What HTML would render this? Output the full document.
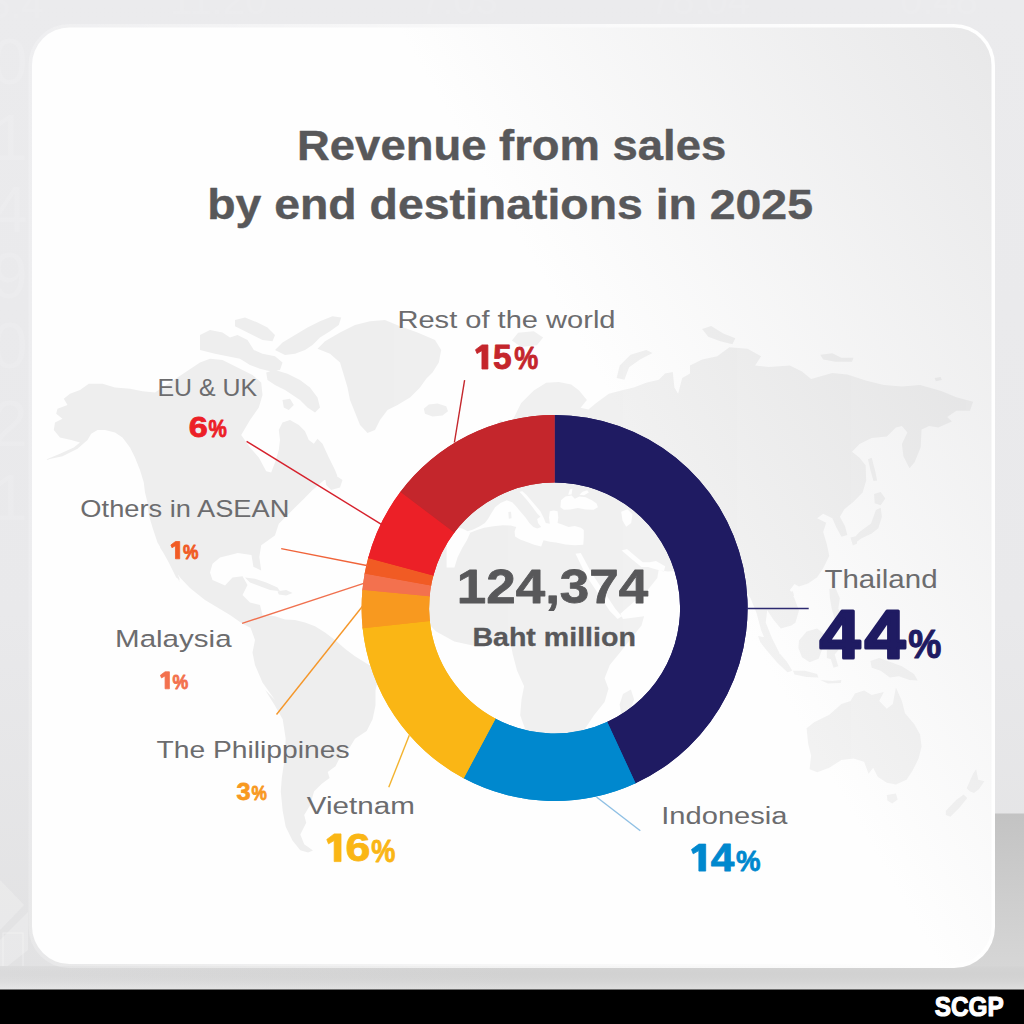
<!DOCTYPE html>
<html><head><meta charset="utf-8"><title>Revenue from sales by end destinations in 2025</title>
<style>
html,body{margin:0;padding:0;width:1024px;height:1024px;overflow:hidden;background:#e9e9eb;}
svg{display:block;font-family:"Liberation Sans",sans-serif;}
text{white-space:pre;}
</style></head><body>
<svg width="1024" height="1024" viewBox="0 0 1024 1024">
<defs>
<linearGradient id="bg" x1="0" y1="0" x2="0" y2="1">
<stop offset="0" stop-color="#ebebed"/><stop offset="0.6" stop-color="#e9e9eb"/><stop offset="1" stop-color="#e1e1e2"/>
</linearGradient>
<linearGradient id="card" gradientUnits="userSpaceOnUse" x1="636" y1="441" x2="1079" y2="185">
<stop offset="0" stop-color="#fefefe"/><stop offset="1" stop-color="#e8e8e9"/>
</linearGradient>
<linearGradient id="mapg" gradientUnits="userSpaceOnUse" x1="300" y1="0" x2="1000" y2="0">
<stop offset="0" stop-color="#000" stop-opacity="0.064"/><stop offset="1" stop-color="#000" stop-opacity="0.04"/>
</linearGradient>
<linearGradient id="bord" gradientUnits="userSpaceOnUse" x1="28" y1="0" x2="995" y2="0">
<stop offset="0" stop-color="#fff" stop-opacity="0.2"/><stop offset="0.5" stop-color="#fff" stop-opacity="0.72"/><stop offset="1" stop-color="#fff" stop-opacity="1"/>
</linearGradient>
<linearGradient id="bshade" x1="0" y1="0" x2="0" y2="1">
<stop offset="0" stop-color="#000" stop-opacity="0.03"/><stop offset="1" stop-color="#fff" stop-opacity="0.15"/>
</linearGradient>
<linearGradient id="bstrip" x1="0" y1="0" x2="1" y2="0">
<stop offset="0" stop-color="#e4e4e5"/><stop offset="0.5" stop-color="#dbdbdb"/><stop offset="1" stop-color="#dbdbdb"/>
</linearGradient>
<linearGradient id="rshade" x1="0" y1="0" x2="0" y2="1">
<stop offset="0" stop-color="#c3c3c3"/><stop offset="1" stop-color="#d6d6d6"/>
</linearGradient>
<mask id="nothole" maskUnits="userSpaceOnUse" x="0" y="0" width="1024" height="1024"><rect width="1024" height="1024" fill="#fff"/><circle cx="554.6" cy="608.0" r="127.0" fill="#000"/></mask>
<mask id="seas" maskUnits="userSpaceOnUse" x="0" y="0" width="1024" height="1024"><rect width="1024" height="1024" fill="#fff"/><path fill="#000" d="M467.7 531.2L473.2 529.4L479.4 526.6L484.9 523.0L488.0 519.1L491.2 513.6L495.1 507.3L500.5 503.1L506.8 500.3L512.2 502.2L516.2 506.6L520.8 512.0L525.5 517.5L529.4 523.0L533.3 526.9L537.2 528.4L541.2 526.9L538.0 523.0L537.2 519.1L540.4 516.7L537.2 513.6L532.6 507.3L527.1 500.3L521.6 494.1L519.3 491.7L522.4 491.2L526.3 494.8L531.0 500.3L535.7 505.8L540.4 511.2L543.5 517.5L545.8 523.0L549.8 523.8L549.0 517.5L549.8 511.2L553.7 510.5L557.6 511.2L558.3 517.5L557.6 523.0L562.2 524.5L568.5 526.9L574.8 526.1L581.0 527.7L583.8 530.0L583.8 537.8L583.3 544.8L574.8 545.3L565.4 544.4L556.0 542.5L549.8 541.7L543.5 540.2L541.2 546.4L534.1 544.8L526.3 541.7L520.1 539.4L515.1 536.6L514.6 531.6L516.2 526.9L510.7 525.6L502.9 525.3L493.5 526.2L484.1 527.7L476.3 530.3L470.1 532.8ZM560.4 507.3L561.0 500.3L565.4 496.4L571.6 495.6L574.8 498.8L579.4 496.4L585.7 497.2L591.9 500.3L596.6 503.4L597.9 507.3L593.5 509.7L585.7 509.4L577.9 508.1L570.1 509.4L563.8 509.7ZM579.4 494.8L582.6 491.7L587.2 490.2L588.8 492.5L584.1 495.3ZM568.2 494.8L569.8 489.4L572.4 488.6L571.6 494.4ZM446.6 526.1L462.2 528.4L467.7 531.2L470.1 533.1L466.9 540.2L462.2 548.0L457.6 557.3L454.4 567.5L446.6 567.5ZM621.2 511.8L627.5 509.2L632.5 514.2L631.2 523.0L626.2 526.8L622.5 520.5ZM575.5 553.8L580.8 553.0L591.4 572.8L604.6 592.6L615.1 608.4L621.7 616.3L617.7 619.0L609.8 611.0L599.3 595.2L586.1 575.5ZM621.7 550.4L627.0 549.1L634.9 555.7L642.8 562.3L649.4 562.3L656.0 561.0L665.2 566.2L663.9 571.5L654.6 568.9L648.1 567.0L641.5 567.0L632.2 559.6ZM686.3 570.2L667.8 571.5L658.6 570.2L657.3 578.1L646.7 591.3L630.9 604.5L620.4 613.7L623.0 619.0L644.1 616.3L641.5 625.5L630.9 638.7L620.4 651.9L609.8 665.1L604.6 678.3L608.5 688.8L604.6 702.0L594.0 715.2L583.5 731.0L572.9 749.5L696.8 749.5L696.8 570.2ZM409.5 612.4L429.2 624.2L435.8 631.3L454.3 641.4L472.7 645.6L488.5 643.0L504.4 641.4L511.0 645.3L512.8 654.6L517.0 670.4L524.1 686.2L521.5 699.4L520.2 715.2L526.8 733.6L533.4 749.5L409.5 749.5Z"/><path fill="#fff" d="M508.3 512.0L511.0 511.7L511.6 518.3L508.8 518.8ZM623.0 694.1L630.9 689.4L634.1 699.4L628.8 715.7L621.7 716.8L619.6 704.6Z"/></mask>
<clipPath id="cardclip"><rect x="32" y="27.5" width="959.5" height="936.5" rx="37.5" ry="37.5"/></clipPath>
</defs>
<rect x="0" y="0" width="1024" height="1024" fill="url(#bg)"/>
<g font-size="64" font-weight="400" fill="#ffffff" fill-opacity="0.11">
<text x="-8" y="84">0</text><text x="-8" y="160">1</text><text x="-8" y="232">4</text><text x="-8" y="298">9</text><text x="-8" y="368">0</text><text x="-8" y="446">2</text><text x="-8" y="520">1</text>
<text x="-12" y="18" font-size="40">5.4</text><text x="170" y="14" font-size="40">11.20</text><text x="420" y="14" font-size="40">7.03</text><text x="650" y="14" font-size="40">78.04</text><text x="900" y="14" font-size="40">0.48</text>
</g>
<path d="M0 880L24 905L0 930ZM0 940L28 912L28 950L0 972Z" fill="#ffffff" fill-opacity="0.22"/>
<rect x="3" y="933" width="20" height="48" fill="none" stroke="#ffffff" stroke-opacity="0.3" stroke-width="1.2"/>
<rect x="940" y="813.5" width="84" height="153" fill="url(#rshade)"/>
<rect x="0" y="966" width="1024" height="24" fill="url(#bstrip)"/>
<rect x="0" y="966" width="1024" height="24" fill="url(#bshade)"/>
<rect x="28.5" y="24" width="966.5" height="944" rx="41" ry="41" fill="url(#bord)"/>
<rect x="32" y="27.5" width="959.5" height="936.5" rx="37.5" ry="37.5" fill="url(#card)"/>
<g clip-path="url(#cardclip)" fill="url(#mapg)">
<g mask="url(#nothole)"><path fill-rule="nonzero" d="M45.0 460.0L60.0 453.8L73.8 447.5L80.0 442.5L71.2 440.0L60.0 437.5L53.8 430.0L55.0 422.5L62.5 418.8L56.2 413.8L57.5 408.8L67.5 405.0L63.8 398.8L70.0 393.8L80.0 390.0L88.8 383.8L102.5 383.8L115.0 387.5L130.0 388.8L142.5 391.2L155.0 392.5L200.0 362.5L210.0 358.8L222.5 360.0L232.5 365.0L242.5 370.0L252.5 375.0L261.2 382.5L262.5 395.0L258.8 407.5L250.0 420.0L241.2 435.0L250.0 447.5L258.8 457.5L266.2 471.2L271.2 472.5L275.0 462.5L278.8 450.0L280.0 440.0L278.8 430.0L282.5 422.5L290.0 420.0L298.8 425.0L305.0 431.2L308.8 440.0L313.8 443.8L317.5 438.8L322.5 443.8L328.8 457.5L335.0 470.0L337.0 475.0L339.4 486.6L325.7 478.8L312.0 490.5L304.2 498.4L294.5 508.1L278.8 523.8L274.9 535.5L261.2 545.2L259.3 557.0L261.2 570.6L253.4 566.7L251.5 555.0L237.8 553.0L230.0 555.0L220.0 557.5L212.5 563.8L210.0 572.5L212.5 580.0L225.0 585.5L232.5 577.5L242.5 576.2L247.5 585.0L242.5 595.0L250.0 602.5L260.0 605.0L262.5 615.0L266.2 625.0L275.0 627.5L282.5 623.8L270.0 632.0L255.0 630.0L242.5 623.8L230.0 615.0L205.0 600.0L190.0 588.0L180.0 577.5L170.0 563.0L160.0 547.5L162.5 540.0L180.0 582.5L172.5 570.0L165.0 555.0L157.5 542.5L152.5 527.5L148.8 515.0L147.5 502.5L145.0 492.5L143.8 482.5L140.0 470.0L135.0 457.5L130.0 447.5L122.5 437.5L115.0 432.5L105.0 430.0L97.5 430.0L91.2 433.8L87.5 440.0L77.5 448.8L62.5 456.2ZM158.8 543.8L162.5 542.5L170.0 557.5L177.5 573.8L180.0 580.0L176.2 577.5L168.8 562.5L162.5 551.2ZM200.0 335.0L210.0 330.0L222.5 332.5L230.0 337.5L237.5 335.0L247.5 340.0L253.8 350.0L262.5 353.8L275.0 356.2L282.5 362.5L280.0 370.0L270.0 371.2L260.0 368.8L250.0 365.0L240.0 358.8L227.5 356.2L215.0 353.8L205.0 351.2L200.0 350.0ZM275.0 350.0L282.5 342.5L295.0 335.0L307.5 327.5L320.0 321.2L332.5 316.2L341.2 317.5L338.8 325.0L330.0 331.2L320.0 337.5L312.5 345.0L305.0 350.0L295.0 353.8L285.0 355.0ZM235.0 320.0L245.0 317.5L257.5 322.5L267.5 327.5L275.0 335.0L272.5 341.2L262.5 340.0L252.5 335.0L242.5 330.0L235.0 326.2ZM266.2 372.5L275.0 370.0L287.5 373.8L300.0 380.0L310.0 387.5L317.5 397.5L320.0 407.5L315.0 412.5L307.5 407.5L300.0 400.0L292.5 395.0L285.0 390.0L275.0 385.0L267.5 380.0ZM282.5 400.0L290.0 398.8L293.8 405.0L288.8 410.0L283.8 407.5ZM325.0 476.2L335.0 475.0L342.5 480.0L340.0 487.5L331.2 490.0L326.2 485.0ZM317.5 348.8L325.0 341.2L340.0 332.5L355.0 325.0L370.0 321.2L385.0 320.0L400.0 326.2L417.5 332.5L435.0 340.0L441.2 350.0L438.8 362.5L432.5 372.5L426.2 378.8L420.0 387.5L410.0 397.5L397.5 405.0L387.5 410.0L380.0 420.0L375.0 430.0L367.5 433.0L360.0 425.0L355.0 412.5L350.0 400.0L347.5 387.5L343.8 375.0L340.0 362.5L330.0 353.8ZM423.8 408.8L428.8 404.5L437.5 403.5L446.2 406.2L448.0 411.2L442.5 415.5L432.5 416.5L425.0 413.8ZM245.0 577.5L255.0 578.8L266.2 582.5L277.5 587.5L280.0 591.2L270.0 590.0L260.0 586.2L250.0 582.5ZM277.5 591.2L286.2 590.0L292.5 593.0L286.2 595.5L278.8 594.5ZM247.5 621.2L256.2 616.2L265.0 615.0L275.0 616.2L285.0 619.5L295.0 620.0L305.0 622.5L315.0 626.2L325.0 632.5L335.0 640.0L345.0 648.8L355.0 656.2L365.0 662.5L377.5 670.0L395.0 680.0L405.0 690.0L407.5 702.5L386.2 660.7L378.4 678.3L375.5 690.0L375.5 705.6L372.6 719.3L366.7 731.0L355.0 738.8L349.1 748.6L339.4 758.4L335.5 766.2L327.7 772.0L329.6 777.9L321.8 783.8L314.0 791.6L310.1 805.2L304.2 815.0L306.2 822.8L300.3 834.5L304.2 844.3L313.0 850.5L308.1 852.5L300.3 850.2L292.5 840.4L285.7 826.7L282.7 811.1L280.8 791.6L281.8 777.9L284.7 758.4L285.7 738.8L282.7 719.3L274.9 705.6L265.2 690.0L275.0 700.0L262.5 682.5L255.0 665.0L252.5 652.5L255.0 640.0L250.0 626.2ZM425.3 580.7L435.8 570.2L449.0 557.0L459.5 543.8L464.8 534.6L472.7 529.3L485.9 526.7L504.4 525.4L522.8 522.7L528.1 529.3L525.5 538.5L536.0 542.5L549.2 549.1L562.4 546.5L575.5 546.5L588.7 549.1L594.0 557.0L588.7 559.6L596.6 575.5L604.6 588.6L615.1 604.5L620.4 616.3L630.9 617.6L644.1 615.0L641.5 625.5L630.9 638.7L620.4 651.9L609.8 665.1L604.6 678.3L609.8 688.8L604.6 702.0L594.0 715.2L583.5 731.0L570.3 744.2L557.1 749.5L543.9 746.8L533.4 733.6L525.5 715.2L522.8 699.4L525.5 686.2L520.2 670.4L512.3 654.6L509.6 644.0L499.1 641.4L483.3 644.0L467.5 645.3L454.3 642.7L441.1 633.5L430.5 620.3L422.6 607.1L420.0 593.9ZM623.0 694.1L630.9 688.8L633.6 699.4L628.3 715.2L621.7 716.5L619.8 704.6ZM588.7 549.1L601.9 545.1L615.1 549.1L623.0 554.4L628.3 562.3L638.8 566.2L649.4 570.2L657.3 578.1L646.7 591.3L633.6 601.8L620.4 609.7L612.5 596.5L604.6 580.7L596.6 564.9L591.4 555.7ZM459.5 524.0L463.5 513.5L472.7 509.5L485.9 512.2L496.5 516.1L507.0 509.5L520.2 504.3L530.7 501.6L537.3 509.5L543.9 518.8L549.2 526.7L543.9 525.4L538.6 517.5L530.7 509.5L525.5 512.2L528.1 520.1L521.5 518.8L512.3 516.1L501.7 520.1L493.8 522.7L483.3 522.7L472.7 526.7L464.8 529.3ZM543.9 501.6L557.1 496.4L562.4 485.8L578.2 488.5L588.7 493.7L601.9 491.1L615.1 496.4L630.9 495.0L646.7 485.8L657.3 483.2L657.3 470.0L499.1 470.0L499.1 485.8L509.6 496.4L525.5 496.4L536.0 497.7ZM562.4 513.5L578.2 509.5L594.0 510.9L609.8 509.5L625.6 513.5L638.8 522.7L649.4 538.5L652.0 551.7L644.1 559.6L638.8 557.0L630.9 549.1L623.0 546.5L615.1 541.2L601.9 537.2L588.7 538.5L580.8 533.3L570.3 530.6L565.0 522.7ZM625.6 513.5L638.8 501.6L657.3 496.4L678.4 501.6L683.6 522.7L681.0 549.1L673.1 564.9L657.3 570.2L646.7 562.3L652.0 551.7L649.4 538.5L638.8 522.7ZM510.3 425.0L515.0 415.6L521.2 403.1L533.8 390.6L546.2 382.8L558.8 381.9L571.2 384.4L579.1 390.6L586.9 400.0L580.6 407.8L588.4 409.4L596.2 403.1L608.8 393.8L621.2 390.6L633.8 387.5L646.2 382.8L658.8 379.7L665.0 373.4L672.8 371.9L674.4 387.5L678.1 393.8L682.2 378.1L690.0 373.4L690.0 365.4L702.1 359.4L717.2 356.3L729.4 347.2L747.5 348.8L761.1 356.3L755.1 365.4L768.7 366.9L789.9 365.4L802.0 371.5L811.1 379.0L832.3 373.0L847.4 374.5L865.6 380.6L883.8 385.1L901.9 386.6L920.1 385.1L941.3 391.1L956.4 397.2L973.1 401.7L970.0 410.8L956.4 410.8L947.3 416.9L951.9 421.4L938.3 427.5L929.2 426.0L921.6 429.6L920.7 447.2L914.6 462.3L909.5 468.3L903.4 456.2L901.9 444.1L907.4 432.6L901.9 426.0L895.9 427.5L886.8 436.6L871.7 438.1L859.5 444.1L852.0 451.7L859.5 457.8L865.6 465.3L866.2 480.5L862.6 492.6L853.5 501.7L844.4 509.2L839.9 516.8L845.0 525.9L847.4 535.0L841.4 536.8L835.9 526.5L832.3 518.3L823.2 513.8L817.2 518.3L826.2 522.8L823.2 531.9L826.8 544.0L829.3 556.1L823.2 568.3L817.2 577.3L808.1 583.4L799.0 586.4L794.5 584.0L789.9 590.1L794.5 598.5L799.0 610.6L795.4 622.8L791.4 625.4L780.8 628.4L773.3 619.4L767.2 610.3L765.7 622.4L771.7 637.5L779.3 652.7L780.8 661.7L774.8 658.7L767.2 645.1L761.1 630.0L756.6 613.3L750.6 598.2L741.5 586.1L726.3 580.0L720.0 600.0L690.0 640.0L660.0 600.0L640.0 560.0L683.6 570.2L673.1 564.9L657.3 570.2L646.7 562.3L652.0 551.7L644.1 559.6L638.8 557.0L630.9 549.1L623.0 546.5L615.1 541.2L601.9 537.2L588.7 538.5L580.8 533.3L570.3 530.6L565.0 522.7L562.4 513.5L551.8 506.9L543.9 501.6L549.2 526.7L543.9 525.4L538.6 517.5L530.7 509.5L525.5 512.2L528.1 520.1L521.5 518.8L512.3 516.1L501.7 520.1L493.8 522.7L483.3 522.7L472.7 526.7L464.8 529.3L459.5 524.0L463.5 513.5L472.7 509.5L485.9 512.2L490.0 500.0L480.0 450.0L500.0 420.0ZM616.6 378.1L619.7 365.6L630.6 354.7L646.2 350.0L652.5 353.1L640.0 359.4L629.1 367.2L624.4 379.7ZM511.9 340.6L518.1 332.8L533.8 331.2L543.1 337.5L536.9 345.3L521.2 346.9ZM702.1 329.1L711.2 326.1L723.3 333.6L735.4 338.2L732.4 344.2L720.3 341.2L708.2 336.7ZM820.2 354.8L832.3 353.3L841.4 357.8L853.5 357.8L852.0 361.8L835.3 361.8L823.2 359.4ZM934.6 378.1L940.7 376.9L941.9 379.9L935.8 381.2ZM868.0 459.3L871.7 457.8L875.3 471.4L877.1 480.5L873.5 481.1L870.4 469.9ZM874.1 494.1L880.7 492.0L885.3 498.6L880.7 505.3L874.7 503.2ZM853.5 538.6L859.5 531.9L871.0 523.5L875.9 510.1L880.7 507.7L881.9 516.8L878.3 528.3L871.7 533.4L861.1 538.6L855.9 542.5ZM850.5 537.4L855.9 536.2L857.1 543.4L852.9 545.6ZM829.9 592.5L834.1 590.4L835.9 597.0L832.3 602.2L829.9 598.5ZM787.5 592.5L792.9 591.3L794.1 596.1L789.3 597.9ZM758.1 636.0L765.7 637.5L776.3 649.6L786.9 661.7L792.3 670.8L787.5 672.3L777.8 663.3L767.2 651.1L760.2 642.1ZM792.9 670.8L805.0 670.8L817.2 673.9L818.4 677.5L806.6 676.9L794.5 674.5ZM799.0 640.6L806.6 631.5L817.2 628.4L824.7 634.5L823.2 646.6L818.7 658.7L809.6 662.3L802.0 657.2L798.4 648.1ZM826.8 650.2L832.3 647.2L839.0 649.6L834.7 654.5L838.3 666.3L833.5 667.8L830.8 659.3L826.8 658.1ZM829.3 589.1L835.3 587.6L839.9 598.2L838.3 608.8L842.9 616.3L840.8 622.4L834.7 619.4L831.7 608.8L829.9 598.2ZM870.4 661.1L879.2 658.1L889.8 661.7L901.9 666.3L914.0 673.9L917.7 680.5L909.5 679.9L898.9 676.3L889.8 677.5L880.7 670.8L871.7 667.8ZM820.2 679.9L832.3 681.1L841.4 679.9L840.8 682.9L827.8 683.5ZM806.6 728.3L814.1 722.3L829.3 714.7L841.4 704.1L850.5 701.1L855.0 693.5L864.1 690.5L871.7 695.0L883.8 692.0L879.2 701.1L886.8 708.7L892.8 704.1L895.9 687.5L901.9 701.1L905.0 713.2L914.0 723.8L920.1 734.4L921.6 746.5L918.6 758.6L912.5 770.7L906.5 779.8L895.9 784.4L886.8 782.8L877.7 776.8L873.2 767.7L868.6 773.8L864.1 761.7L853.5 758.6L841.4 760.1L829.3 767.7L817.2 772.2L809.6 769.2L811.1 755.6L808.1 743.5ZM886.8 795.0L895.9 793.4L897.7 799.5L892.2 803.4L887.4 800.4ZM966.7 788.3L973.1 773.8L976.1 769.2L978.2 779.8L984.3 781.3L979.1 788.9L974.0 793.1L969.7 791.3ZM945.8 810.7L956.4 799.8L963.7 794.4L967.3 798.0L959.5 807.7L950.4 816.8L945.8 814.9Z"/></g><circle cx="554.6" cy="608.0" r="127.0" mask="url(#seas)"/>
</g>
<path d="M554.60 415.00A193.0 193.0 0 0 1 634.33 783.76L606.44 722.29A125.5 125.5 0 0 0 554.60 482.50Z" fill="#1f1b62"/>
<path d="M636.78 782.63A193.0 193.0 0 0 1 462.51 777.61L494.72 718.29A125.5 125.5 0 0 0 608.04 721.56Z" fill="#0088ce"/>
<path d="M464.89 778.88A193.0 193.0 0 0 1 362.52 626.83L429.70 620.25A125.5 125.5 0 0 0 496.26 719.12Z" fill="#fab615"/>
<path d="M362.80 629.51A193.0 193.0 0 0 1 362.59 588.50L429.74 595.32A125.5 125.5 0 0 0 429.88 621.99Z" fill="#f8991f"/>
<path d="M362.33 591.18A193.0 193.0 0 0 1 364.96 572.17L431.28 584.70A125.5 125.5 0 0 0 429.58 597.06Z" fill="#f3714e"/>
<path d="M364.47 574.82A193.0 193.0 0 0 1 368.53 556.75L433.61 574.67A125.5 125.5 0 0 0 430.97 586.42Z" fill="#f15b24"/>
<path d="M367.83 559.35A193.0 193.0 0 0 1 401.28 490.78L454.90 531.77A125.5 125.5 0 0 0 433.15 576.37Z" fill="#ec2027"/>
<path d="M399.66 492.93A193.0 193.0 0 0 1 554.60 415.00L554.60 482.50A125.5 125.5 0 0 0 453.85 533.17Z" fill="#c4262c"/>
<path d="M554.60 415.00A193.0 193.0 0 0 1 635.55 783.20L607.24 721.93A125.5 125.5 0 0 0 554.60 482.50Z" fill="#1f1b62"/>
<path d="M635.55 783.20A193.0 193.0 0 0 1 463.69 778.25L495.49 718.71A125.5 125.5 0 0 0 607.24 721.93Z" fill="#0088ce"/>
<path d="M463.69 778.25A193.0 193.0 0 0 1 362.66 628.17L429.79 621.12A125.5 125.5 0 0 0 495.49 718.71Z" fill="#fab615"/>
<path d="M362.66 628.17A193.0 193.0 0 0 1 362.46 589.84L429.66 596.19A125.5 125.5 0 0 0 429.79 621.12Z" fill="#f8991f"/>
<path d="M362.46 589.84A193.0 193.0 0 0 1 364.71 573.49L431.12 585.56A125.5 125.5 0 0 0 429.66 596.19Z" fill="#f3714e"/>
<path d="M364.71 573.49A193.0 193.0 0 0 1 368.18 558.05L433.38 575.52A125.5 125.5 0 0 0 431.12 585.56Z" fill="#f15b24"/>
<path d="M368.18 558.05A193.0 193.0 0 0 1 400.46 491.85L454.37 532.47A125.5 125.5 0 0 0 433.38 575.52Z" fill="#ec2027"/>
<path d="M400.46 491.85A193.0 193.0 0 0 1 554.60 415.00L554.60 482.50A125.5 125.5 0 0 0 454.37 532.47Z" fill="#c4262c"/>
<line x1="464.6" y1="380.1" x2="454.4" y2="442.5" stroke="#c4262c" stroke-width="1.4"/>
<line x1="246.6" y1="441.3" x2="381.8" y2="524.6" stroke="#d6212c" stroke-width="1.4"/>
<line x1="281.2" y1="548.6" x2="368.0" y2="565.7" stroke="#f0643a" stroke-width="1.4"/>
<line x1="242.1" y1="623.4" x2="364.5" y2="583.1" stroke="#f0714f" stroke-width="1.4"/>
<line x1="276.5" y1="714.5" x2="362.5" y2="606.2" stroke="#f5972a" stroke-width="1.4"/>
<line x1="388.75" y1="787.2" x2="409.3" y2="735.3" stroke="#f3b32e" stroke-width="1.4"/>
<line x1="596.5" y1="797.0" x2="640.3" y2="830.7" stroke="#8fc0e4" stroke-width="1.4"/>
<line x1="746.5" y1="608.5" x2="808.7" y2="608.5" stroke="#2c2970" stroke-width="1.4"/>
<rect x="0" y="989.5" width="1024" height="35" fill="#000"/>
<g>
<path d="M481.95 344.90H487.90V369.00H481.95V350.68L476.99 353.58L475.50 349.72Z" fill="#c4262c" stroke="#c4262c" stroke-width="0.80" stroke-linejoin="round"/>
<text transform="matrix(0.3360 0 0 0.3443 493.09 368.66)" font-size="100.00" font-weight="700" fill="#c4262c" stroke="#c4262c" stroke-width="2.38" stroke-linejoin="round">5</text>
<text transform="matrix(0.2702 0 0 0.3050 514.37 368.95)" font-size="100.00" font-weight="700" fill="#c4262c" stroke="#c4262c" stroke-width="2.59" stroke-linejoin="round">%</text>
<text transform="matrix(0.3423 0 0 0.2958 188.70 437.20)" font-size="100.00" font-weight="700" fill="#ec2027" stroke="#ec2027" stroke-width="2.70" stroke-linejoin="round">6</text>
<text transform="matrix(0.2060 0 0 0.2369 208.44 437.31)" font-size="100.00" font-weight="700" fill="#ec2027" stroke="#ec2027" stroke-width="3.40" stroke-linejoin="round">%</text>
<path d="M175.48 541.50H179.70V558.80H175.48V545.65L171.96 547.73L170.90 544.96Z" fill="#f15b24" stroke="#f15b24" stroke-width="0.80" stroke-linejoin="round"/>
<text transform="matrix(0.1738 0 0 0.2057 182.92 558.64)" font-size="100.00" font-weight="700" fill="#f15b24" stroke="#f15b24" stroke-width="4.03" stroke-linejoin="round">%</text>
<path d="M165.08 671.80H169.40V688.80H165.08V675.88L161.48 677.92L160.40 675.20Z" fill="#f3714e" stroke="#f3714e" stroke-width="0.80" stroke-linejoin="round"/>
<text transform="matrix(0.1774 0 0 0.2014 172.61 688.65)" font-size="100.00" font-weight="700" fill="#f3714e" stroke="#f3714e" stroke-width="3.95" stroke-linejoin="round">%</text>
<text transform="matrix(0.2525 0 0 0.2479 236.47 799.55)" font-size="100.00" font-weight="700" fill="#f8991f" stroke="#f8991f" stroke-width="3.23" stroke-linejoin="round">3</text>
<text transform="matrix(0.1726 0 0 0.2057 251.52 799.64)" font-size="100.00" font-weight="700" fill="#f8991f" stroke="#f8991f" stroke-width="4.06" stroke-linejoin="round">%</text>
<path d="M334.18 833.90H341.00V861.60H334.18V840.55L328.50 843.87L326.80 839.44Z" fill="#fab615" stroke="#fab615" stroke-width="0.80" stroke-linejoin="round"/>
<text transform="matrix(0.4474 0 0 0.3901 345.43 861.21)" font-size="100.00" font-weight="700" fill="#fab615" stroke="#fab615" stroke-width="2.05" stroke-linejoin="round">6</text>
<text transform="matrix(0.2714 0 0 0.3050 371.37 861.55)" font-size="100.00" font-weight="700" fill="#fab615" stroke="#fab615" stroke-width="2.58" stroke-linejoin="round">%</text>
<path d="M698.88 844.10H705.70V871.10H698.88V850.58L693.20 853.82L691.50 849.50Z" fill="#0088ce" stroke="#0088ce" stroke-width="0.80" stroke-linejoin="round"/>
<text transform="matrix(0.4243 0 0 0.3913 710.66 871.10)" font-size="100.00" font-weight="700" fill="#0088ce" stroke="#0088ce" stroke-width="2.04" stroke-linejoin="round">4</text>
<text transform="matrix(0.2762 0 0 0.3021 735.96 871.35)" font-size="100.00" font-weight="700" fill="#0088ce" stroke="#0088ce" stroke-width="2.53" stroke-linejoin="round">%</text>
<text transform="matrix(0.7290 0 0 0.6855 819.71 657.50)" font-size="100.00" font-weight="700" fill="#1f1b62" stroke="#1f1b62" stroke-width="4.38" stroke-linejoin="round">4</text>
<text transform="matrix(0.7290 0 0 0.6855 864.81 657.50)" font-size="100.00" font-weight="700" fill="#1f1b62" stroke="#1f1b62" stroke-width="4.38" stroke-linejoin="round">4</text>
<text transform="matrix(0.3726 0 0 0.4128 908.27 658.39)" font-size="100.00" font-weight="700" fill="#1f1b62" stroke="#1f1b62" stroke-width="2.68" stroke-linejoin="round">%</text>
<text transform="matrix(1.1979 0 0 1.0000 397.47 327.70)" font-size="24.27" font-weight="400" fill="#6c6c6e">Rest of the world</text>
<text transform="matrix(1.0327 0 0 1.0000 157.51 395.60)" font-size="24.13" font-weight="400" fill="#6c6c6e">EU &amp; UK</text>
<text transform="matrix(1.1368 0 0 1.0000 80.37 517.30)" font-size="23.98" font-weight="400" fill="#6c6c6e">Others in ASEAN</text>
<text transform="matrix(1.1958 0 0 1.0000 115.04 647.40)" font-size="24.71" font-weight="400" fill="#6c6c6e">Malaysia</text>
<text transform="matrix(1.1421 0 0 1.0000 156.59 757.80)" font-size="24.71" font-weight="400" fill="#6c6c6e">The Philippines</text>
<text transform="matrix(1.2260 0 0 1.0000 306.85 813.90)" font-size="24.13" font-weight="400" fill="#6c6c6e">Vietnam</text>
<text transform="matrix(1.1774 0 0 1.0000 661.28 823.70)" font-size="24.71" font-weight="400" fill="#6c6c6e">Indonesia</text>
<text transform="matrix(1.1802 0 0 1.0000 824.46 588.20)" font-size="25.00" font-weight="400" fill="#6c6c6e">Thailand</text>
<text transform="matrix(1.0888 0 0 1.0000 297.05 159.50)" font-size="41.72" font-weight="700" fill="#58585a" stroke="#58585a" stroke-width="0.40" stroke-linejoin="round">Revenue from sales</text>
<text transform="matrix(1.1122 0 0 1.0000 207.18 218.70)" font-size="41.72" font-weight="700" fill="#58585a" stroke="#58585a" stroke-width="0.40" stroke-linejoin="round">by end destinations in 2025</text>
<text transform="matrix(1.1366 0 0 1.0000 472.39 645.60)" font-size="25.15" font-weight="700" fill="#58585a" stroke="#58585a" stroke-width="0.30" stroke-linejoin="round">Baht million</text>
<text transform="matrix(0.8719 0 0 1.0000 934.67 1016.00)" font-size="27.91" font-weight="700" fill="#ffffff" stroke="#ffffff" stroke-width="1.15" stroke-linejoin="round">SCGP</text>
<text transform="matrix(0.5298 0 0 0.4887 456.76 603.41)" font-size="100.00" font-weight="700" fill="#58585a" stroke="#58585a" stroke-width="1.64" stroke-linejoin="round">124,374</text>
</g>
</svg>
</body></html>
